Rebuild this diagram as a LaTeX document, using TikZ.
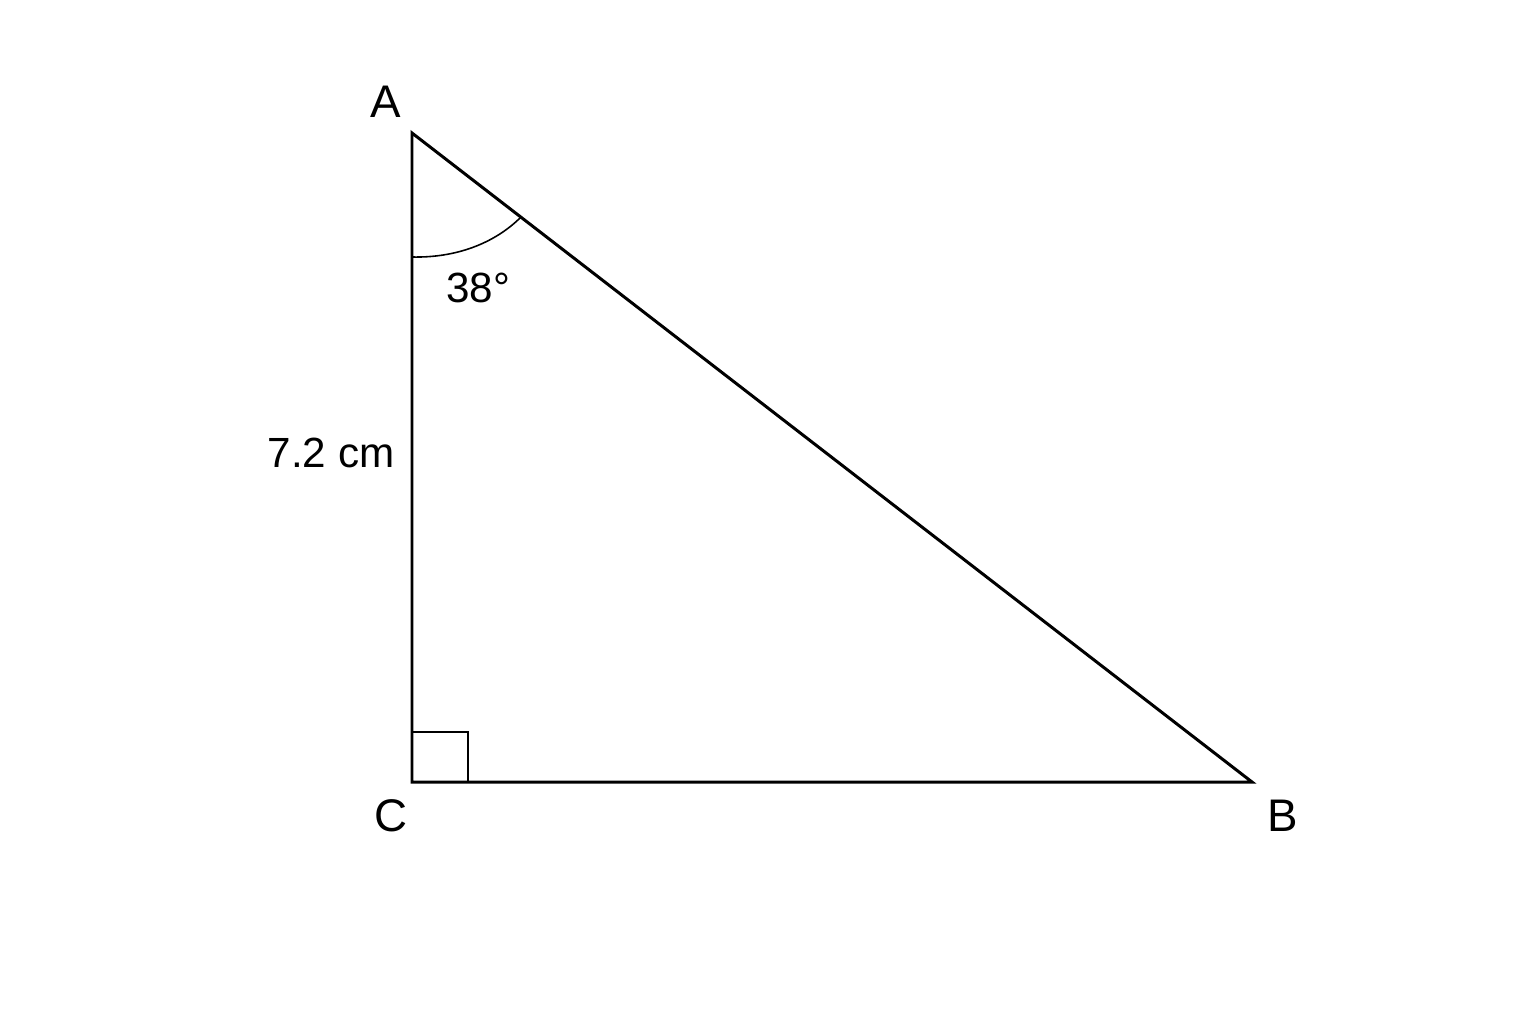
\documentclass[tikz,border=0pt]{standalone}
\usepackage{fontspec}
\setmainfont{Liberation Sans}
\begin{document}
\begin{tikzpicture}[x=0.01cm,y=-0.01cm,
  side/.style={line width=0.85pt,line join=miter},
  thin/.style={line width=0.45pt},
  vlabel/.style={font=\fontsize{13}{15}\selectfont,inner sep=0pt},
  mlabel/.style={font=\fontsize{12}{14}\selectfont,inner sep=0pt}]
\useasboundingbox[fill=white] (0,0) rectangle (1536,1024);
\coordinate (A) at (412,133);
\coordinate (C) at (412,782);
\coordinate (B) at (1252,782);
\draw[side] (A) -- (C) -- (B) -- cycle;
\coordinate (s1) at (412,732);
\coordinate (s2) at (468,732);
\coordinate (s3) at (468,782);
\draw[thin] (s1) -- (s2) -- (s3);
\coordinate (a1) at (412,257);
\coordinate (a2) at (521,217);
\draw[thin] (a1) .. controls (455,258) and (494,244) .. (a2);
\node[vlabel] (lA) at (386,102) {A};
\node[vlabel] (lC) at (391,816) {C};
\node[vlabel] (lB) at (1283,816) {B};
\node[mlabel] (ang) at (478,288) {38°};
\node[mlabel] (len) at (331,453) {7.2 cm};
\end{tikzpicture}
\end{document}
